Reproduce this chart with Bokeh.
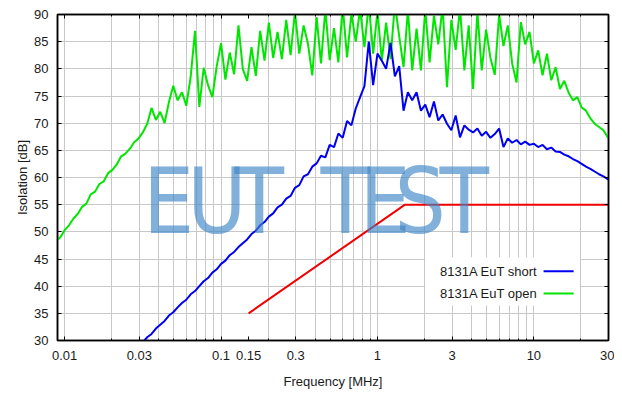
import numpy as np
from bokeh.plotting import figure
from bokeh.models import FixedTicker, LogAxis, LinearAxis, Label, BoxAnnotation
from bokeh.embed import file_html
from bokeh.resources import INLINE

# ---- sweep grid (36 points per decade) ----
MULT = [1.000, 1.066, 1.136, 1.212, 1.292, 1.377, 1.468, 1.565, 1.668, 1.778,
        1.896, 2.021, 2.154, 2.297, 2.448, 2.610, 2.783, 2.967, 3.162, 3.371,
        3.594, 3.831, 4.084, 4.354, 4.642, 4.948, 5.275, 5.623, 5.995, 6.391,
        6.813, 7.263, 7.743, 8.254, 8.799, 9.381]
DECADES = [-3, -2, -1, 0, 1]
FREQ_ALL = [m * 10.0 ** d for d in DECADES for m in MULT]
FREQ = FREQ_ALL[34:163]          # 0.0088 MHz ... 31.6 MHz

# ---- 8131A EuT open (green) ----
GREEN = [
    48.3, 49.0,
    50.3, 51.2, 52.4, 53.3, 54.6, 55.2, 56.9, 57.4, 58.8, 59.3,
    60.8, 61.4, 62.4, 63.9, 64.4, 65.3, 66.5, 67.2, 68.3, 69.9,
    72.8, 70.6, 72.1, 70.0, 73.9, 76.9, 74.2, 75.7, 73.2, 78.5,
    87.0, 73.0, 80.2, 77.0, 74.8, 80.5,
    84.7, 78.0, 83.0, 79.0, 88.0, 80.0, 77.8, 84.0, 78.7, 87.0,
    81.5, 88.5, 82.0, 86.8, 81.8, 89.0, 82.5, 90.5, 82.8, 88.0,
    84.6, 78.8, 89.5, 81.0, 91.0, 81.6, 87.5, 81.2, 91.5, 82.1,
    90.2, 85.0, 91.0, 84.0, 92.0, 82.8,
    90.6, 81.5, 88.5, 81.8, 92.0, 86.0, 80.3, 90.8, 79.7, 87.4,
    79.7, 91.0, 81.2, 89.8, 84.5, 91.5, 76.6, 89.0, 83.5, 91.2,
    79.7, 88.0, 76.3, 90.5, 79.7, 87.2, 82.0, 78.9, 90.0, 84.2,
    88.0, 81.0, 77.5, 88.6, 84.5, 86.8,
    81.0, 83.4, 78.8, 82.8, 77.9, 80.3, 76.3, 77.8, 75.6, 74.2,
    74.8, 72.9, 72.3, 70.9, 69.9, 69.3, 68.7, 67.4, 66.6,
]

# ---- 8131A EuT short (blue) ----
FREQ_BLUE = FREQ[20:]            # from 0.0316 MHz
BLUE = [
    29.7, 30.6, 31.2, 32.2, 32.9, 33.6, 34.6, 35.2, 36.1, 36.9,
    37.5, 38.5, 39.1, 40.0, 40.9, 41.5, 42.5, 43.1,
    44.1, 44.7, 45.7, 46.3, 47.2, 47.9, 48.6, 49.6, 50.2, 51.2,
    51.8, 52.8, 53.4, 54.5, 55.0, 56.1, 56.6, 58.1, 58.6, 60.2,
    60.6, 62.0, 62.6, 64.0, 63.7, 66.0, 65.6, 68.1, 67.3, 70.4,
    69.6, 72.7, 74.8, 76.8, 85.0, 77.0,
    82.8, 81.5, 80.0, 84.8, 78.6, 80.5, 72.3, 75.7, 74.2, 75.7,
    72.3, 73.4, 71.1, 74.0, 70.5, 71.6, 69.9, 68.7, 71.4, 67.4,
    69.6, 68.8, 68.3, 69.0, 67.7, 68.4, 67.3, 68.0, 69.0, 65.6,
    67.2, 66.4, 66.9, 66.1, 66.6, 66.0,
    66.2, 65.6, 66.0, 65.2, 65.5, 64.8, 64.7, 64.2, 63.9, 63.4,
    63.0, 62.5, 62.0, 61.6, 61.1, 60.6, 60.2, 59.7, 59.2,
]

# ---- limit line (red) ----
RED_F = [0.15, 1.5, 30.0]
RED_DB = [35.0, 55.0, 55.0]

# ---- ticks ----
XTICKS = [0.01, 0.03, 0.1, 0.15, 0.3, 1.0, 3.0, 10.0, 30.0]
XTICK_LABELS = ["0.01", "0.03", "0.1", "0.15", "0.3", "1", "3", "10", "30"]
GRID_F = [m * 10.0 ** d for d in [-2, -1, 0] for m in range(1, 10)] + [10.0, 20.0, 30.0]
YTICKS = [30, 35, 40, 45, 50, 55, 60, 65, 70, 75, 80, 85, 90]

SERIES_NAMES = ["8131A EuT short", "8131A EuT open"]
SERIES_COLORS = ["#0000f0", "#00e600"]

FONT = "Liberation Sans"
TXT = "#1a1a1a"

p = figure(width=614, height=393, x_axis_type="log",
           x_range=(0.009, 30), y_range=(30, 90),
           output_backend="svg", toolbar_location=None,
           min_border_left=57, min_border_right=6,
           min_border_top=14, min_border_bottom=53)
p.background_fill_color = "white"
p.border_fill_color = "white"
p.outline_line_color = "black"
p.outline_line_width = 1.5

# grids
p.xgrid.ticker = FixedTicker(ticks=GRID_F)
p.xgrid.grid_line_color = "#c8c8c8"
p.xgrid.grid_line_width = 1
p.ygrid.ticker = FixedTicker(ticks=YTICKS)
p.ygrid.grid_line_color = "#c8c8c8"
p.ygrid.grid_line_width = 1

# bottom axis
xa = p.xaxis[0]
xa.ticker = FixedTicker(ticks=XTICKS, minor_ticks=GRID_F)
xa.major_label_overrides = dict(zip(XTICKS, XTICK_LABELS))
xa.axis_label = "Frequency [MHz]"
xa.axis_label_text_font = FONT
xa.axis_label_text_font_style = "normal"
xa.axis_label_text_font_size = "13px"
xa.axis_label_text_color = TXT
xa.axis_label_standoff = 11
xa.major_label_text_font = FONT
xa.major_label_text_font_size = "13px"
xa.major_label_text_color = TXT
xa.major_label_standoff = 10
xa.major_tick_in = 4
xa.major_tick_out = 0
xa.minor_tick_in = 2
xa.minor_tick_out = 0
xa.axis_line_color = "black"
xa.axis_line_width = 1.5

# left axis
ya = p.yaxis[0]
ya.ticker = FixedTicker(ticks=YTICKS)
ya.axis_label = "Isolation [dB]"
ya.axis_label_text_font = FONT
ya.axis_label_text_font_style = "normal"
ya.axis_label_text_font_size = "13px"
ya.axis_label_text_color = TXT
ya.axis_label_standoff = 1
ya.major_label_text_font = FONT
ya.major_label_text_font_size = "13px"
ya.major_label_text_color = TXT
ya.major_label_standoff = 9
ya.major_tick_in = 4
ya.major_tick_out = 0
ya.minor_tick_in = 0
ya.minor_tick_out = 0
ya.axis_line_color = "black"
ya.axis_line_width = 1.5

# mirror axes (ticks only, no labels drawn)
top = LogAxis(ticker=FixedTicker(ticks=XTICKS, minor_ticks=GRID_F),
              major_label_text_color=None, major_label_standoff=0,
              major_tick_in=4, major_tick_out=0, minor_tick_in=2, minor_tick_out=0,
              axis_line_color="black", axis_line_width=1.5)
p.add_layout(top, "above")
right = LinearAxis(ticker=FixedTicker(ticks=YTICKS),
                   major_label_text_color=None, major_label_standoff=0,
                   major_tick_in=4, major_tick_out=0, minor_tick_in=0, minor_tick_out=0,
                   axis_line_color="black", axis_line_width=1.5)
p.add_layout(right, "right")

# data
p.line(FREQ, GREEN, line_color=SERIES_COLORS[1], line_width=2)
p.line(FREQ_BLUE, BLUE, line_color=SERIES_COLORS[0], line_width=2)
p.line(RED_F, RED_DB, line_color="#f00000", line_width=2)

# watermark
WM_LETTERS = ["E", "U", "T", "T", "E", "S", "T"]
WM_X = [0.0462, 0.0941, 0.1754, 0.6216, 1.12, 1.874, 3.58]
for ch, xx in zip(WM_LETTERS, WM_X):
    p.add_layout(Label(x=xx, y=55.5, text=ch, text_align="center",
                       text_baseline="alphabetic",
                       text_font="Liberation Sans Narrow, DejaVu Sans Condensed, Roboto",
                       text_font_size="90px", text_color="#3d85c6", text_alpha=0.65))

# legend (text left of sample, gnuplot style)
p.add_layout(BoxAnnotation(left=2.02, right=19.7, bottom=36.45, top=45.33,
                           fill_color="white", fill_alpha=1.0, line_color=None))
LEG_Y = [42.75, 38.65]
for name, col, yy in zip(SERIES_NAMES, SERIES_COLORS, LEG_Y):
    p.add_layout(Label(x=10.57, y=yy, text=name, text_align="right",
                       text_baseline="middle", text_font=FONT,
                       text_font_size="13px", text_color=TXT))
    p.add_layout(BoxAnnotation(left=11.53, right=17.96, bottom=yy - 0.19, top=yy + 0.19,
                               fill_color=col, fill_alpha=1.0, line_color=None))

open("out.html", "w").write(file_html(p, INLINE))
